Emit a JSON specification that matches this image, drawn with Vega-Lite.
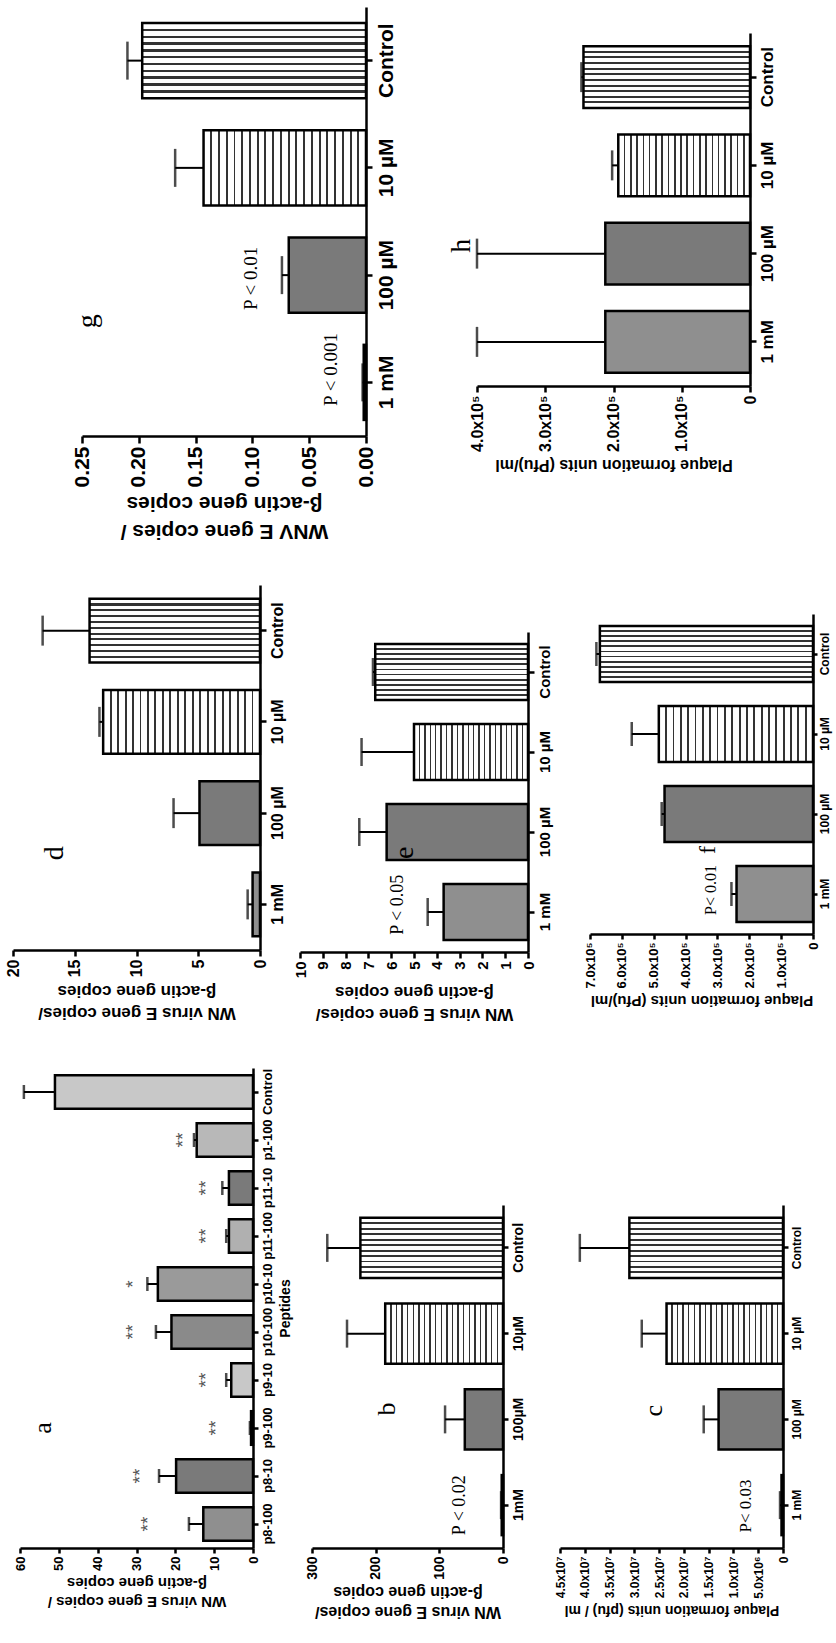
{
"$schema":"https://vega.github.io/schema/vega-lite/v6.json",
"width":836,"height":1643,"autosize":"none","padding":0,"background":"white",
"params":[
 {"name":"hsG","value":{"gradient":"linear","x1":0,"y1":0,"x2":0,"y2":1,"stops":[{"offset":0,"color":"#fff"},
{"offset":0.0749,"color":"#fff"},{"offset":0.0749,"color":"#333"},{"offset":0.1069,"color":"#333"},{"offset":0.1069,"color":"#fff"},
{"offset":0.1658,"color":"#fff"},{"offset":0.1658,"color":"#333"},{"offset":0.1978,"color":"#333"},{"offset":0.1978,"color":"#fff"},
{"offset":0.2567,"color":"#fff"},{"offset":0.2567,"color":"#333"},{"offset":0.2887,"color":"#333"},{"offset":0.2887,"color":"#fff"},
{"offset":0.3476,"color":"#fff"},{"offset":0.3476,"color":"#333"},{"offset":0.3796,"color":"#333"},{"offset":0.3796,"color":"#fff"},
{"offset":0.4385,"color":"#fff"},{"offset":0.4385,"color":"#333"},{"offset":0.4705,"color":"#333"},{"offset":0.4705,"color":"#fff"},
{"offset":0.5295,"color":"#fff"},{"offset":0.5295,"color":"#333"},{"offset":0.5615,"color":"#333"},{"offset":0.5615,"color":"#fff"},
{"offset":0.6204,"color":"#fff"},{"offset":0.6204,"color":"#333"},{"offset":0.6524,"color":"#333"},{"offset":0.6524,"color":"#fff"},
{"offset":0.7113,"color":"#fff"},{"offset":0.7113,"color":"#333"},{"offset":0.7433,"color":"#333"},{"offset":0.7433,"color":"#fff"},
{"offset":0.8022,"color":"#fff"},{"offset":0.8022,"color":"#333"},{"offset":0.8342,"color":"#333"},{"offset":0.8342,"color":"#fff"},
{"offset":0.8931,"color":"#fff"},{"offset":0.8931,"color":"#333"},{"offset":0.9251,"color":"#333"},{"offset":0.9251,"color":"#fff"},
{"offset":1,"color":"#fff"}]}},
 {"name":"vsG","value":{"gradient":"linear","x1":0,"y1":0,"x2":1,"y2":0,"stops":[{"offset":0,"color":"#fff"},
{"offset":0.0416,"color":"#fff"},{"offset":0.0416,"color":"#333"},{"offset":0.0536,"color":"#333"},{"offset":0.0536,"color":"#fff"},
{"offset":0.0892,"color":"#fff"},{"offset":0.0892,"color":"#333"},{"offset":0.1012,"color":"#333"},{"offset":0.1012,"color":"#fff"},
{"offset":0.1369,"color":"#fff"},{"offset":0.1369,"color":"#333"},{"offset":0.1489,"color":"#333"},{"offset":0.1489,"color":"#fff"},
{"offset":0.1845,"color":"#fff"},{"offset":0.1845,"color":"#333"},{"offset":0.1965,"color":"#333"},{"offset":0.1965,"color":"#fff"},
{"offset":0.2321,"color":"#fff"},{"offset":0.2321,"color":"#333"},{"offset":0.2441,"color":"#333"},{"offset":0.2441,"color":"#fff"},
{"offset":0.2797,"color":"#fff"},{"offset":0.2797,"color":"#333"},{"offset":0.2917,"color":"#333"},{"offset":0.2917,"color":"#fff"},
{"offset":0.3273,"color":"#fff"},{"offset":0.3273,"color":"#333"},{"offset":0.3393,"color":"#333"},{"offset":0.3393,"color":"#fff"},
{"offset":0.3750,"color":"#fff"},{"offset":0.3750,"color":"#333"},{"offset":0.3870,"color":"#333"},{"offset":0.3870,"color":"#fff"},
{"offset":0.4226,"color":"#fff"},{"offset":0.4226,"color":"#333"},{"offset":0.4346,"color":"#333"},{"offset":0.4346,"color":"#fff"},
{"offset":0.4702,"color":"#fff"},{"offset":0.4702,"color":"#333"},{"offset":0.4822,"color":"#333"},{"offset":0.4822,"color":"#fff"},
{"offset":0.5178,"color":"#fff"},{"offset":0.5178,"color":"#333"},{"offset":0.5298,"color":"#333"},{"offset":0.5298,"color":"#fff"},
{"offset":0.5654,"color":"#fff"},{"offset":0.5654,"color":"#333"},{"offset":0.5774,"color":"#333"},{"offset":0.5774,"color":"#fff"},
{"offset":0.6130,"color":"#fff"},{"offset":0.6130,"color":"#333"},{"offset":0.6250,"color":"#333"},{"offset":0.6250,"color":"#fff"},
{"offset":0.6607,"color":"#fff"},{"offset":0.6607,"color":"#333"},{"offset":0.6727,"color":"#333"},{"offset":0.6727,"color":"#fff"},
{"offset":0.7083,"color":"#fff"},{"offset":0.7083,"color":"#333"},{"offset":0.7203,"color":"#333"},{"offset":0.7203,"color":"#fff"},
{"offset":0.7559,"color":"#fff"},{"offset":0.7559,"color":"#333"},{"offset":0.7679,"color":"#333"},{"offset":0.7679,"color":"#fff"},
{"offset":0.8035,"color":"#fff"},{"offset":0.8035,"color":"#333"},{"offset":0.8155,"color":"#333"},{"offset":0.8155,"color":"#fff"},
{"offset":0.8511,"color":"#fff"},{"offset":0.8511,"color":"#333"},{"offset":0.8631,"color":"#333"},{"offset":0.8631,"color":"#fff"},
{"offset":0.8988,"color":"#fff"},{"offset":0.8988,"color":"#333"},{"offset":0.9108,"color":"#333"},{"offset":0.9108,"color":"#fff"},
{"offset":0.9464,"color":"#fff"},{"offset":0.9464,"color":"#333"},{"offset":0.9584,"color":"#333"},{"offset":0.9584,"color":"#fff"},
{"offset":1,"color":"#fff"}]}}
],
"config":{
 "view":{"stroke":null},
 "axis":{"domainColor":"black","domainWidth":2.5,"tickColor":"black","tickWidth":2.5,"labelColor":"black","labelFont":"Liberation Sans","labelFontWeight":"bold","titleFont":"Liberation Sans","titleFontWeight":"bold","titleColor":"black","grid":false,"labelOverlap":false,"labelFlush":false,"labelPadding":3,"titlePadding":8}
},
"datasets":{
 "g":[{"cat":"Control","mean":0.197,"err":0.210},{"cat":"10 µM","mean":0.143,"err":0.168},{"cat":"100 µM","mean":0.068,"err":0.074},{"cat":"1 mM","mean":0.002,"err":0.003}],
 "h":[{"cat":"Control","mean":244000,"err":247000},{"cat":"10 µM","mean":193000,"err":202000},{"cat":"100 µM","mean":212000,"err":400000},{"cat":"1 mM","mean":212000,"err":400000}],
 "d":[{"cat":"Control","mean":13.8,"err":17.6},{"cat":"10 µM","mean":12.7,"err":13.0},{"cat":"100 µM","mean":4.9,"err":7.0},{"cat":"1 mM","mean":0.6,"err":1.0}],
 "e":[{"cat":"Control","mean":6.7,"err":6.8},{"cat":"10 µM","mean":5.0,"err":7.3},{"cat":"100 µM","mean":6.2,"err":7.4},{"cat":"1 mM","mean":3.7,"err":4.4}],
 "f":[{"cat":"Control","mean":669000,"err":680000},{"cat":"10 µM","mean":484000,"err":569000},{"cat":"100 µM","mean":466000,"err":475000},{"cat":"1 mM","mean":240000,"err":256000}],
 "a":[{"cat":"Control","mean":51,"err":59},{"cat":"p1-100","mean":14.5,"err":15.2},{"cat":"p11-10","mean":6.2,"err":7.9},{"cat":"p11-100","mean":6.2,"err":6.9},{"cat":"p10-10","mean":24.5,"err":27.2},{"cat":"p10-100","mean":21,"err":25},{"cat":"p9-10","mean":5.6,"err":6.9},{"cat":"p9-100","mean":0.5,"err":0.8},{"cat":"p8-10","mean":19.8,"err":24.2},{"cat":"p8-100","mean":12.8,"err":16.5}],
 "b":[{"cat":"Control","mean":224,"err":276},{"cat":"10µM","mean":185,"err":245},{"cat":"100µM","mean":60,"err":91},{"cat":"1mM","mean":2,"err":3}],
 "c":[{"cat":"Control","mean":31000000,"err":41000000},{"cat":"10 µM","mean":23500000,"err":28500000},{"cat":"100 µM","mean":13000000,"err":16000000},{"cat":"1 mM","mean":300000,"err":600000}]
},
"layer":[
 {"layer":[
  {"data":{"name":"g"},
   "encoding":{
    "y":{"field":"cat","type":"nominal","sort":null,"scale":{"domain":["Control","10 µM","100 µM","1 mM"],"range":[7,436],"paddingInner":0.3,"paddingOuter":0.15},"axis":{"orient":"right","offset":-470,"labelAngle":-90,"labelAlign":"center","labelBaseline":"top","labelFontSize":21,"tickSize":6,"title":null}},
    "x":{"field":"mean","type":"quantitative","scale":{"domain":[0,0.25],"range":[366,82],"nice":false},"axis":{"orient":"bottom","offset":-1207,"values":[0,0.05,0.1,0.15,0.2,0.25],"format":".2f","labelAngle":-90,"labelAlign":"right","labelBaseline":"middle","labelFontSize":21,"tickSize":7,"title":["WNV E gene copies /","β-actin gene copies"],"titleAngle":180,"titleBaseline":"bottom","titleFontSize":21,"titleLineHeight":28,"titleY":84}}},
   "layer":[
    {"transform":[{"filter":"datum.cat === 'Control'"}],"mark":{"type":"bar","fill":{"expr":"hsG"},"stroke":"black","strokeWidth":2.5}},
    {"transform":[{"filter":"datum.cat === '10 µM'"}],"mark":{"type":"bar","fill":{"expr":"vsG"},"stroke":"black","strokeWidth":2.5}},
    {"transform":[{"filter":"datum.cat === '100 µM'"}],"mark":{"type":"bar","fill":"#7a7a7a","stroke":"black","strokeWidth":2.5}},
    {"transform":[{"filter":"datum.cat === '1 mM'"}],"mark":{"type":"bar","fill":"#8f8f8f","stroke":"black","strokeWidth":2.5}},
    {"mark":{"type":"rule","color":"black","strokeWidth":2},"encoding":{"x2":{"field":"err"}}},
    {"mark":{"type":"tick","color":"black","thickness":2.5,"size":38},"encoding":{"x":{"field":"err","type":"quantitative","scale":{"domain":[0,0.25],"range":[366,82],"nice":false}}}}
   ]},
  {"data":{"values":[{"label":"g","value":0.245,"pos":2.93}]},"mark":{"type":"text","font":"Liberation Serif","fontSize":28,"angle":270,"color":"black"},
   "encoding":{"x":{"field":"value","type":"quantitative","scale":{"domain":[0,0.25],"range":[366,82],"nice":false}},"y":{"field":"pos","type":"quantitative","scale":{"domain":[0,4],"range":[7,436],"nice":false,"zero":false},"axis":null},"text":{"field":"label"}}},
  {"data":{"values":[{"label":"P < 0.01","value":0.101,"pos":2.53},{"label":"P < 0.001","value":0.031,"pos":3.38}]},"mark":{"type":"text","font":"Liberation Serif","fontSize":19,"angle":270,"color":"black"},
   "encoding":{"x":{"field":"value","type":"quantitative","scale":{"domain":[0,0.25],"range":[366,82],"nice":false}},"y":{"field":"pos","type":"quantitative","scale":{"domain":[0,4],"range":[7,436],"nice":false,"zero":false},"axis":null},"text":{"field":"label"}}}
 ],"resolve":{"scale":{"y":"independent"}}},

 {"layer":[
  {"data":{"name":"h"},
   "encoding":{
    "y":{"field":"cat","type":"nominal","sort":null,"scale":{"domain":["Control","10 µM","100 µM","1 mM"],"range":[33,386],"paddingInner":0.3,"paddingOuter":0.15},"axis":{"orient":"right","offset":-86,"labelAngle":-90,"labelAlign":"center","labelBaseline":"top","labelFontSize":17,"tickSize":6,"title":null}},
    "x":{"field":"mean","type":"quantitative","scale":{"domain":[0,400000],"range":[750,477],"nice":false},"axis":{"orient":"bottom","offset":-1257,"values":[0,100000,200000,300000,400000],"labelExpr":"datum.value === 0 ? '0' : format(datum.value/100000, '.1f') + 'x10⁵'","labelAngle":-90,"labelAlign":"right","labelBaseline":"middle","labelFontSize":16,"tickSize":6,"title":"Plaque formation units (Pfu)/ml","titleAngle":180,"titleBaseline":"bottom","titleFontSize":16,"titleY":70}}},
   "layer":[
    {"transform":[{"filter":"datum.cat === 'Control'"}],"mark":{"type":"bar","fill":{"expr":"hsG"},"stroke":"black","strokeWidth":2.5}},
    {"transform":[{"filter":"datum.cat === '10 µM'"}],"mark":{"type":"bar","fill":{"expr":"vsG"},"stroke":"black","strokeWidth":2.5}},
    {"transform":[{"filter":"datum.cat === '100 µM'"}],"mark":{"type":"bar","fill":"#7a7a7a","stroke":"black","strokeWidth":2.5}},
    {"transform":[{"filter":"datum.cat === '1 mM'"}],"mark":{"type":"bar","fill":"#8f8f8f","stroke":"black","strokeWidth":2.5}},
    {"mark":{"type":"rule","color":"black","strokeWidth":2},"encoding":{"x2":{"field":"err"}}},
    {"mark":{"type":"tick","color":"black","thickness":2.5,"size":30},"encoding":{"x":{"field":"err","type":"quantitative","scale":{"domain":[0,400000],"range":[750,477],"nice":false}}}}
   ]},
  {"data":{"values":[{"label":"h","value":422000,"pos":2.41}]},"mark":{"type":"text","font":"Liberation Serif","fontSize":28,"angle":270,"color":"black"},
   "encoding":{"x":{"field":"value","type":"quantitative","scale":{"domain":[0,400000],"range":[750,477],"nice":false}},"y":{"field":"pos","type":"quantitative","scale":{"domain":[0,4],"range":[33,386],"nice":false,"zero":false},"axis":null},"text":{"field":"label"}}}
 ],"resolve":{"scale":{"y":"independent"}}},

 {"layer":[
  {"data":{"name":"d"},
   "encoding":{
    "y":{"field":"cat","type":"nominal","sort":null,"scale":{"domain":["Control","10 µM","100 µM","1 mM"],"range":[585,950],"paddingInner":0.3,"paddingOuter":0.15},"axis":{"orient":"right","offset":-576,"labelAngle":-90,"labelAlign":"center","labelBaseline":"top","labelFontSize":16,"tickSize":6,"title":null}},
    "x":{"field":"mean","type":"quantitative","scale":{"domain":[0,20],"range":[260,13],"nice":false},"axis":{"orient":"bottom","offset":-693,"values":[0,5,10,15,20],"format":"d","labelAngle":-90,"labelAlign":"right","labelBaseline":"middle","labelFontSize":16,"tickSize":6,"title":["WN virus E gene copies/","β-actin gene copies"],"titleAngle":180,"titleBaseline":"bottom","titleFontSize":17,"titleLineHeight":22,"titleY":53}}},
   "layer":[
    {"transform":[{"filter":"datum.cat === 'Control'"}],"mark":{"type":"bar","fill":{"expr":"hsG"},"stroke":"black","strokeWidth":2.5}},
    {"transform":[{"filter":"datum.cat === '10 µM'"}],"mark":{"type":"bar","fill":{"expr":"vsG"},"stroke":"black","strokeWidth":2.5}},
    {"transform":[{"filter":"datum.cat === '100 µM'"}],"mark":{"type":"bar","fill":"#7a7a7a","stroke":"black","strokeWidth":2.5}},
    {"transform":[{"filter":"datum.cat === '1 mM'"}],"mark":{"type":"bar","fill":"#8f8f8f","stroke":"black","strokeWidth":2.5}},
    {"mark":{"type":"rule","color":"black","strokeWidth":2},"encoding":{"x2":{"field":"err"}}},
    {"mark":{"type":"tick","color":"black","thickness":2.5,"size":30},"encoding":{"x":{"field":"err","type":"quantitative","scale":{"domain":[0,20],"range":[260,13],"nice":false}}}}
   ]},
  {"data":{"values":[{"label":"d","value":16.6,"pos":2.94}]},"mark":{"type":"text","font":"Liberation Serif","fontSize":28,"angle":270,"color":"black"},
   "encoding":{"x":{"field":"value","type":"quantitative","scale":{"domain":[0,20],"range":[260,13],"nice":false}},"y":{"field":"pos","type":"quantitative","scale":{"domain":[0,4],"range":[585,950],"nice":false,"zero":false},"axis":null},"text":{"field":"label"}}}
 ],"resolve":{"scale":{"y":"independent"}}},

 {"layer":[
  {"data":{"name":"e"},
   "encoding":{
    "y":{"field":"cat","type":"nominal","sort":null,"scale":{"domain":["Control","10 µM","100 µM","1 mM"],"range":[632,952],"paddingInner":0.3,"paddingOuter":0.15},"axis":{"orient":"right","offset":-308,"labelAngle":-90,"labelAlign":"center","labelBaseline":"top","labelFontSize":15,"tickSize":6,"title":null}},
    "x":{"field":"mean","type":"quantitative","scale":{"domain":[0,10],"range":[528,300],"nice":false},"axis":{"orient":"bottom","offset":-691,"values":[0,1,2,3,4,5,6,7,8,9,10],"format":"d","labelAngle":-90,"labelAlign":"right","labelBaseline":"middle","labelFontSize":15,"tickSize":6,"title":["WN virus E gene copies/","β-actin gene copies"],"titleAngle":180,"titleBaseline":"bottom","titleFontSize":17,"titleLineHeight":22,"titleY":52}}},
   "layer":[
    {"transform":[{"filter":"datum.cat === 'Control'"}],"mark":{"type":"bar","fill":{"expr":"hsG"},"stroke":"black","strokeWidth":2.5}},
    {"transform":[{"filter":"datum.cat === '10 µM'"}],"mark":{"type":"bar","fill":{"expr":"vsG"},"stroke":"black","strokeWidth":2.5}},
    {"transform":[{"filter":"datum.cat === '100 µM'"}],"mark":{"type":"bar","fill":"#7a7a7a","stroke":"black","strokeWidth":2.5}},
    {"transform":[{"filter":"datum.cat === '1 mM'"}],"mark":{"type":"bar","fill":"#8f8f8f","stroke":"black","strokeWidth":2.5}},
    {"mark":{"type":"rule","color":"black","strokeWidth":2},"encoding":{"x2":{"field":"err"}}},
    {"mark":{"type":"tick","color":"black","thickness":2.5,"size":28},"encoding":{"x":{"field":"err","type":"quantitative","scale":{"domain":[0,10],"range":[528,300],"nice":false}}}}
   ]},
  {"data":{"values":[{"label":"e","value":5.4,"pos":2.76}]},"mark":{"type":"text","font":"Liberation Serif","fontSize":28,"angle":270,"color":"black"},
   "encoding":{"x":{"field":"value","type":"quantitative","scale":{"domain":[0,10],"range":[528,300],"nice":false}},"y":{"field":"pos","type":"quantitative","scale":{"domain":[0,4],"range":[632,952],"nice":false,"zero":false},"axis":null},"text":{"field":"label"}}},
  {"data":{"values":[{"label":"P < 0.05","value":5.7,"pos":3.41}]},"mark":{"type":"text","font":"Liberation Serif","fontSize":18,"angle":270,"color":"black"},
   "encoding":{"x":{"field":"value","type":"quantitative","scale":{"domain":[0,10],"range":[528,300],"nice":false}},"y":{"field":"pos","type":"quantitative","scale":{"domain":[0,4],"range":[632,952],"nice":false,"zero":false},"axis":null},"text":{"field":"label"}}}
 ],"resolve":{"scale":{"y":"independent"}}},

 {"layer":[
  {"data":{"name":"f"},
   "encoding":{
    "y":{"field":"cat","type":"nominal","sort":null,"scale":{"domain":["Control","10 µM","100 µM","1 mM"],"range":[614,934],"paddingInner":0.3,"paddingOuter":0.15},"axis":{"orient":"right","offset":-23,"labelAngle":-90,"labelAlign":"center","labelBaseline":"top","labelFontSize":12,"labelPadding":2,"tickSize":4,"title":null}},
    "x":{"field":"mean","type":"quantitative","scale":{"domain":[0,700000],"range":[813,590],"nice":false},"axis":{"orient":"bottom","offset":-709,"values":[0,100000,200000,300000,400000,500000,600000,700000],"labelExpr":"datum.value === 0 ? '0' : format(datum.value/100000, '.1f') + 'x10⁵'","labelAngle":-90,"labelAlign":"right","labelBaseline":"middle","labelFontSize":13,"tickSize":5,"title":"Plaque formation units (Pfu)/ml","titleAngle":180,"titleBaseline":"bottom","titleFontSize":15,"titleY":58}}},
   "layer":[
    {"transform":[{"filter":"datum.cat === 'Control'"}],"mark":{"type":"bar","fill":{"expr":"hsG"},"stroke":"black","strokeWidth":2.5}},
    {"transform":[{"filter":"datum.cat === '10 µM'"}],"mark":{"type":"bar","fill":{"expr":"vsG"},"stroke":"black","strokeWidth":2.5}},
    {"transform":[{"filter":"datum.cat === '100 µM'"}],"mark":{"type":"bar","fill":"#7a7a7a","stroke":"black","strokeWidth":2.5}},
    {"transform":[{"filter":"datum.cat === '1 mM'"}],"mark":{"type":"bar","fill":"#8f8f8f","stroke":"black","strokeWidth":2.5}},
    {"mark":{"type":"rule","color":"black","strokeWidth":2},"encoding":{"x2":{"field":"err"}}},
    {"mark":{"type":"tick","color":"black","thickness":2.5,"size":24},"encoding":{"x":{"field":"err","type":"quantitative","scale":{"domain":[0,700000],"range":[813,590],"nice":false}}}}
   ]},
  {"data":{"values":[{"label":"f","value":330000,"pos":2.95}]},"mark":{"type":"text","font":"Liberation Serif","fontSize":24,"angle":270,"color":"black"},
   "encoding":{"x":{"field":"value","type":"quantitative","scale":{"domain":[0,700000],"range":[813,590],"nice":false}},"y":{"field":"pos","type":"quantitative","scale":{"domain":[0,4],"range":[614,934],"nice":false,"zero":false},"axis":null},"text":{"field":"label"}}},
  {"data":{"values":[{"label":"P< 0.01","value":320000,"pos":3.45}]},"mark":{"type":"text","font":"Liberation Serif","fontSize":16,"angle":270,"color":"black"},
   "encoding":{"x":{"field":"value","type":"quantitative","scale":{"domain":[0,700000],"range":[813,590],"nice":false}},"y":{"field":"pos","type":"quantitative","scale":{"domain":[0,4],"range":[614,934],"nice":false,"zero":false},"axis":null},"text":{"field":"label"}}}
 ],"resolve":{"scale":{"y":"independent"}}},

 {"layer":[
  {"data":{"name":"a"},
   "encoding":{
    "y":{"field":"cat","type":"nominal","sort":null,"scale":{"domain":["Control","p1-100","p11-10","p11-100","p10-10","p10-100","p9-10","p9-100","p8-10","p8-100"],"range":[1068,1548],"paddingInner":0.3,"paddingOuter":0.15},"axis":{"orient":"right","offset":-583,"labelAngle":-90,"labelAlign":"center","labelBaseline":"top","labelFontSize":13,"tickSize":5,"title":"Peptides","titleAngle":-90,"titleBaseline":"top","titleFontSize":14,"titlePadding":4}},
    "x":{"field":"mean","type":"quantitative","scale":{"domain":[0,60],"range":[253,20],"nice":false},"axis":{"orient":"bottom","offset":-95,"values":[0,10,20,30,40,50,60],"format":"d","labelAngle":-90,"labelAlign":"right","labelBaseline":"middle","labelFontSize":13,"tickSize":5,"title":["WN virus E gene copies /","β-actin gene copies"],"titleAngle":180,"titleBaseline":"bottom","titleFontSize":15,"titleLineHeight":19,"titleY":45}}},
   "layer":[
    {"mark":{"type":"bar","stroke":"black","strokeWidth":2.5},"encoding":{"color":{"field":"cat","type":"nominal","legend":null,"scale":{"domain":["Control","p1-100","p11-10","p11-100","p10-10","p10-100","p9-10","p9-100","p8-10","p8-100"],"range":["#c8c8c8","#b8b8b8","#7a7a7a","#b0b0b0","#9a9a9a","#8a8a8a","#c8c8c8","#555555","#7a7a7a","#8f8f8f"]}}}},
    {"mark":{"type":"rule","color":"black","strokeWidth":2},"encoding":{"x2":{"field":"err"}}},
    {"mark":{"type":"tick","color":"black","thickness":2.5,"size":14},"encoding":{"x":{"field":"err","type":"quantitative","scale":{"domain":[0,60],"range":[253,20],"nice":false}}}}
   ]},
  {"data":{"values":[{"label":"a","value":54,"pos":7.5}]},"mark":{"type":"text","font":"Liberation Serif","fontSize":26,"angle":270,"color":"black"},
   "encoding":{"x":{"field":"value","type":"quantitative","scale":{"domain":[0,60],"range":[253,20],"nice":false}},"y":{"field":"pos","type":"quantitative","scale":{"domain":[0,10],"range":[1068,1548],"nice":false,"zero":false},"axis":null},"text":{"field":"label"}}},
  {"data":{"values":[{"label":"**","value":18,"pos":1.5},{"label":"**","value":12,"pos":2.5},{"label":"**","value":12,"pos":3.5},{"label":"*","value":31,"pos":4.5},{"label":"**","value":31,"pos":5.5},{"label":"**","value":12,"pos":6.5},{"label":"**","value":9.5,"pos":7.5},{"label":"**","value":29,"pos":8.5},{"label":"**","value":27,"pos":9.5}]},"mark":{"type":"text","font":"Liberation Sans","fontSize":19,"angle":270,"color":"#555"},
   "encoding":{"x":{"field":"value","type":"quantitative","scale":{"domain":[0,60],"range":[253,20],"nice":false}},"y":{"field":"pos","type":"quantitative","scale":{"domain":[0,10],"range":[1068,1548],"nice":false,"zero":false},"axis":null},"text":{"field":"label"}}}
 ],"resolve":{"scale":{"y":"independent"}}},

 {"layer":[
  {"data":{"name":"b"},
   "encoding":{
    "y":{"field":"cat","type":"nominal","sort":null,"scale":{"domain":["Control","10µM","100µM","1mM"],"range":[1205,1548],"paddingInner":0.3,"paddingOuter":0.15},"axis":{"orient":"right","offset":-333,"labelAngle":-90,"labelAlign":"center","labelBaseline":"top","labelFontSize":14,"tickSize":5,"title":null}},
    "x":{"field":"mean","type":"quantitative","scale":{"domain":[0,300],"range":[503,312],"nice":false},"axis":{"orient":"bottom","offset":-95,"values":[0,100,200,300],"format":"d","labelAngle":-90,"labelAlign":"right","labelBaseline":"middle","labelFontSize":14,"tickSize":5,"title":["WN virus E gene copies/","β-actin gene copies"],"titleAngle":180,"titleBaseline":"bottom","titleFontSize":16,"titleLineHeight":20,"titleY":55}}},
   "layer":[
    {"transform":[{"filter":"datum.cat === 'Control'"}],"mark":{"type":"bar","fill":{"expr":"hsG"},"stroke":"black","strokeWidth":2.5}},
    {"transform":[{"filter":"datum.cat === '10µM'"}],"mark":{"type":"bar","fill":{"expr":"vsG"},"stroke":"black","strokeWidth":2.5}},
    {"transform":[{"filter":"datum.cat === '100µM'"}],"mark":{"type":"bar","fill":"#7a7a7a","stroke":"black","strokeWidth":2.5}},
    {"transform":[{"filter":"datum.cat === '1mM'"}],"mark":{"type":"bar","fill":"#8f8f8f","stroke":"black","strokeWidth":2.5}},
    {"mark":{"type":"rule","color":"black","strokeWidth":2},"encoding":{"x2":{"field":"err"}}},
    {"mark":{"type":"tick","color":"black","thickness":2.5,"size":28},"encoding":{"x":{"field":"err","type":"quantitative","scale":{"domain":[0,300],"range":[503,312],"nice":false}}}}
   ]},
  {"data":{"values":[{"label":"b","value":182,"pos":2.38}]},"mark":{"type":"text","font":"Liberation Serif","fontSize":26,"angle":270,"color":"black"},
   "encoding":{"x":{"field":"value","type":"quantitative","scale":{"domain":[0,300],"range":[503,312],"nice":false}},"y":{"field":"pos","type":"quantitative","scale":{"domain":[0,4],"range":[1205,1548],"nice":false,"zero":false},"axis":null},"text":{"field":"label"}}},
  {"data":{"values":[{"label":"P < 0.02","value":67,"pos":3.5}]},"mark":{"type":"text","font":"Liberation Serif","fontSize":18,"angle":270,"color":"black"},
   "encoding":{"x":{"field":"value","type":"quantitative","scale":{"domain":[0,300],"range":[503,312],"nice":false}},"y":{"field":"pos","type":"quantitative","scale":{"domain":[0,4],"range":[1205,1548],"nice":false,"zero":false},"axis":null},"text":{"field":"label"}}}
 ],"resolve":{"scale":{"y":"independent"}}},

 {"layer":[
  {"data":{"name":"c"},
   "encoding":{
    "y":{"field":"cat","type":"nominal","sort":null,"scale":{"domain":["Control","10 µM","100 µM","1 mM"],"range":[1205,1548],"paddingInner":0.3,"paddingOuter":0.15},"axis":{"orient":"right","offset":-53,"labelAngle":-90,"labelAlign":"center","labelBaseline":"top","labelFontSize":12,"tickSize":5,"title":null}},
    "x":{"field":"mean","type":"quantitative","scale":{"domain":[0,45000000],"range":[783,560],"nice":false},"axis":{"orient":"bottom","offset":-95,"values":[0,5000000,10000000,15000000,20000000,25000000,30000000,35000000,40000000,45000000],"labelExpr":"datum.value === 0 ? '0' : datum.value < 10000000 ? format(datum.value/1000000, '.1f') + 'x10⁶' : format(datum.value/10000000, '.1f') + 'x10⁷'","labelAngle":-90,"labelAlign":"right","labelBaseline":"middle","labelFontSize":12,"tickSize":5,"title":"Plaque formation units (pfu) / ml","titleAngle":180,"titleBaseline":"bottom","titleFontSize":14,"titleY":54}}},
   "layer":[
    {"transform":[{"filter":"datum.cat === 'Control'"}],"mark":{"type":"bar","fill":{"expr":"hsG"},"stroke":"black","strokeWidth":2.5}},
    {"transform":[{"filter":"datum.cat === '10 µM'"}],"mark":{"type":"bar","fill":{"expr":"vsG"},"stroke":"black","strokeWidth":2.5}},
    {"transform":[{"filter":"datum.cat === '100 µM'"}],"mark":{"type":"bar","fill":"#7a7a7a","stroke":"black","strokeWidth":2.5}},
    {"transform":[{"filter":"datum.cat === '1 mM'"}],"mark":{"type":"bar","fill":"#8f8f8f","stroke":"black","strokeWidth":2.5}},
    {"mark":{"type":"rule","color":"black","strokeWidth":2},"encoding":{"x2":{"field":"err"}}},
    {"mark":{"type":"tick","color":"black","thickness":2.5,"size":28},"encoding":{"x":{"field":"err","type":"quantitative","scale":{"domain":[0,45000000],"range":[783,560],"nice":false}}}}
   ]},
  {"data":{"values":[{"label":"c","value":26000000,"pos":2.4}]},"mark":{"type":"text","font":"Liberation Serif","fontSize":26,"angle":270,"color":"black"},
   "encoding":{"x":{"field":"value","type":"quantitative","scale":{"domain":[0,45000000],"range":[783,560],"nice":false}},"y":{"field":"pos","type":"quantitative","scale":{"domain":[0,4],"range":[1205,1548],"nice":false,"zero":false},"axis":null},"text":{"field":"label"}}},
  {"data":{"values":[{"label":"P< 0.03","value":7500000,"pos":3.51}]},"mark":{"type":"text","font":"Liberation Serif","fontSize":17,"angle":270,"color":"black"},
   "encoding":{"x":{"field":"value","type":"quantitative","scale":{"domain":[0,45000000],"range":[783,560],"nice":false}},"y":{"field":"pos","type":"quantitative","scale":{"domain":[0,4],"range":[1205,1548],"nice":false,"zero":false},"axis":null},"text":{"field":"label"}}}
 ],"resolve":{"scale":{"y":"independent"}}}
],
"resolve":{"scale":{"x":"independent","y":"independent"},"axis":{"x":"independent","y":"independent"}}
}
